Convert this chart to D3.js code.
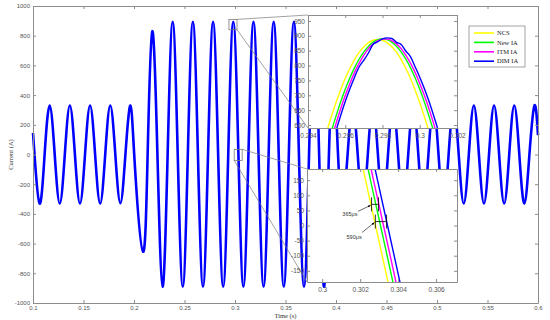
<!DOCTYPE html>
<meta charset="utf-8">
<style type="text/css">
  body { margin: 0; background: #fff; }
  .serif { font-family: "Liberation Serif", "Times New Roman", serif; }
</style>
<body>
</body>
<script src="https://d3js.org/d3.v7.min.js"></script>
<script>
  // Fault current waveform with two zoomed insets

  var seriesNames = ["NCS", "New IA", "ITM IA", "DIM IA"];
  var seriesColors = ["#ffff00", "#00ff00", "#ff00ff", "#0000ff"];

  var xTicks = [0.1, 0.15, 0.2, 0.25, 0.3, 0.35, 0.4, 0.45, 0.5, 0.55, 0.6];
  var yTicks = [-1000, -800, -600, -400, -200, 0, 200, 400, 600, 800, 1000];

  // main waveform (DIM IA), read at peaks, troughs and zero crossings
  var mainTime = [
    0.1000, 0.1015, 0.1065, 0.1115, 0.1165, 0.1215, 0.1265, 0.1315, 0.1365, 0.1415,
    0.1465, 0.1515, 0.1565, 0.1615, 0.1665, 0.1715, 0.1765, 0.1815, 0.1865, 0.1915,
    0.1965, 0.2010, 0.2090, 0.2135, 0.2181, 0.2232, 0.2283, 0.2333, 0.2383, 0.2433,
    0.2483, 0.2533, 0.2583, 0.2633, 0.2683, 0.2733, 0.2783, 0.2833, 0.2883, 0.2933,
    0.2983, 0.3034, 0.3083, 0.3133, 0.3183, 0.3233, 0.3283, 0.3333, 0.3383, 0.3433,
    0.3483, 0.3533, 0.3583, 0.3633, 0.3683, 0.3733, 0.3783, 0.3833, 0.3883, 0.3930,
    0.3975, 0.4020, 0.4065, 0.4115, 0.4165, 0.4215, 0.4265, 0.4315, 0.4365, 0.4415,
    0.4465, 0.4515, 0.4565, 0.4615, 0.4665, 0.4715, 0.4765, 0.4815, 0.4865, 0.4915,
    0.4965, 0.5015, 0.5065, 0.5115, 0.5165, 0.5215, 0.5265, 0.5315, 0.5365, 0.5415,
    0.5465, 0.5515, 0.5565, 0.5615, 0.5665, 0.5715, 0.5765, 0.5815, 0.5865, 0.5915,
    0.5965, 0.6000
  ];
  var mainCurrent = [
    145, 0, -330, 0, 330, 0, -330, 0, 330, 0,
    -330, 0, 330, 0, -330, 0, 330, 0, -328, 0,
    330, -90, -655, 0, 830, 0, -890, 0, 893, 0,
    -890, 0, 893, 0, -890, 0, 893, 0, -890, 0,
    893, 0, -890, 0, 893, 0, -890, 0, 893, 0,
    -890, 0, 893, 0, -890, 0, 893, 0, -890, 0,
    560, 0, -330, 0, 330, 0, -330, 0, 330, 0,
    -330, 0, 330, 0, -330, 0, 330, 0, -330, 0,
    330, 0, -330, 0, 330, 0, -330, 0, 330, 0,
    -330, 0, 330, 0, -330, 0, 330, 0, -330, 0,
    330, 130
  ];

  // upper inset: around the peak
  var topXTicks = [0.294, 0.296, 0.298, 0.3, 0.302];
  var topYTicks = [600, 650, 700, 750, 800, 850, 900, 950];
  var topTime = [
    0.29400, 0.29425, 0.29450, 0.29475, 0.29500, 0.29525, 0.29550, 0.29575, 0.29600, 0.29625,
    0.29650, 0.29675, 0.29700, 0.29725, 0.29750, 0.29775, 0.29800, 0.29825, 0.29850, 0.29875,
    0.29900, 0.29925, 0.29950, 0.29975, 0.30000, 0.30025, 0.30050, 0.30075, 0.30100, 0.30125,
    0.30150, 0.30175, 0.30200
  ];
  var topNCS = [340, 403, 464, 522, 577, 628, 675, 718, 757, 791, 820, 845, 863, 877, 885, 888, 885,
    877, 863, 845, 820, 791, 757, 718, 675, 628, 577, 522, 464, 403, 340, 274, 207];
  var topNew = [275, 341, 404, 465, 523, 578, 629, 677, 720, 759, 793, 822, 846, 865, 879, 887, 890,
    887, 879, 865, 846, 822, 793, 759, 720, 677, 629, 578, 523, 465, 404, 341, 275];
  var topITM = [242, 308, 373, 435, 494, 551, 604, 654, 699, 740, 777, 808, 835, 857, 873, 884, 889,
    889, 884, 873, 857, 835, 808, 777, 740, 699, 654, 604, 551, 494, 435, 373, 308];
  var topDIM = [208, 276, 342, 405, 467, 525, 580, 631, 679, 722, 761, 796, 818, 843, 872, 880, 890,
    893, 891, 878, 871, 849, 830, 796, 761, 722, 679, 631, 580, 525, 467, 405, 342];

  // lower inset: around the zero crossing
  var lowXTicks = [0.3, 0.302, 0.304, 0.306];
  var lowYTicks = [-150, -100, -50, 0, 50, 100, 150];
  var lowCurrent = [200, 100, 0, -100, -200];
  var lowNCS = [0.30211, 0.30246, 0.30281, 0.30316, 0.30351];
  var lowNew = [0.30237, 0.30272, 0.30307, 0.30342, 0.30377];
  var lowITM = [0.30253, 0.30288, 0.30323, 0.30358, 0.30393];
  var lowDIM = [0.30274, 0.30309, 0.30344, 0.30379, 0.30414];

  // delay markers in the lower inset
  var delayLabels = ["365\u03bcs", "590\u03bcs"];
  var delayStart = [0.30260, 0.30280];
  var delayEnd = [0.302965, 0.30339];
  var delayLevel = [70, 13];

  var width = 550, height = 320;
  var margin = { top: 6, right: 12, bottom: 17, left: 33 };

  var svg = d3.select("body").append("svg")
    .attr("width", width)
    .attr("height", height);

  var x = d3.scaleLinear().domain([0.1, 0.6]).range([margin.left, width - margin.right]);
  var y = d3.scaleLinear().domain([-1000, 1000]).range([height - margin.bottom, margin.top]);

  var fmt = function(d) { return String(+d.toFixed(3)); };
  var axisGray = "#8c8c8c";

  function styleAxis(g, fontSize) {
    g.attr("font-family", "'Liberation Sans', Arial, sans-serif").attr("font-size", fontSize);
    g.select(".domain").attr("stroke", axisGray);
    g.selectAll(".tick line").attr("stroke", axisGray);
    g.selectAll(".tick text").attr("fill", "#555");
  }

  // box with ticks on all four sides
  function drawBox(g, xs, ys, xt, yt, fontSize, padX, padY) {
    var r = xs.range(), d = ys.range();
    g.append("g").attr("transform", "translate(0," + d[0] + ")")
      .call(d3.axisBottom(xs).tickValues(xt).tickFormat(fmt).tickSizeInner(-3).tickSizeOuter(0).tickPadding(padX))
      .call(styleAxis, fontSize);
    g.append("g").attr("transform", "translate(0," + d[1] + ")")
      .call(d3.axisTop(xs).tickValues(xt).tickFormat("").tickSizeInner(-3).tickSizeOuter(0))
      .call(styleAxis, fontSize);
    g.append("g").attr("transform", "translate(" + r[0] + ",0)")
      .call(d3.axisLeft(ys).tickValues(yt).tickFormat(fmt).tickSizeInner(-3).tickSizeOuter(0).tickPadding(padY))
      .call(styleAxis, fontSize);
    g.append("g").attr("transform", "translate(" + r[1] + ",0)")
      .call(d3.axisRight(ys).tickValues(yt).tickFormat("").tickSizeInner(-3).tickSizeOuter(0))
      .call(styleAxis, fontSize);
  }

  // main waveform
  var mainData = mainTime.map(function(t, i) { return { t: t, v: mainCurrent[i] }; });
  var mainLine = d3.line()
    .x(function(d) { return x(d.t); })
    .y(function(d) { return y(d.v); })
    .curve(d3.curveNatural);

  svg.append("path")
    .datum(mainData)
    .attr("fill", "none")
    .attr("stroke", seriesColors[3])
    .attr("stroke-width", 2.6)
    .attr("d", mainLine);

  drawBox(svg.append("g"), x, y, xTicks, yTicks, 6, 3, 3);

  // axis titles
  svg.append("text")
    .attr("class", "serif")
    .attr("x", (x.range()[0] + x.range()[1]) / 2)
    .attr("y", 318)
    .attr("text-anchor", "middle")
    .attr("font-size", 6.5)
    .attr("fill", "#333")
    .text("Time (s)");

  svg.append("text")
    .attr("class", "serif")
    .attr("transform", "translate(13," + y(0) + ") rotate(-90)")
    .attr("text-anchor", "middle")
    .attr("font-size", 6.5)
    .attr("fill", "#333")
    .text("Current (A)");

  // inset scales
  var xTop = d3.scaleLinear().domain([0.294, 0.302]).range([308, 457]);
  var yTop = d3.scaleLinear().domain([590, 970]).range([128, 15]);
  var xLow = d3.scaleLinear().domain([0.2992, 0.3071]).range([307, 457]);
  var yLow = d3.scaleLinear().domain([-187, 187]).range([282, 169]);

  // zoom rectangles on the main plot and their connectors
  var zoomGray = "#7a7a7a";
  var r1 = { x0: x(0.294), x1: x(0.302), y0: y(910), y1: y(840) };
  var r2 = { x0: x(0.2992), x1: x(0.3071), y0: y(35), y1: y(-40) };
  svg.append("rect").attr("x", r1.x0).attr("y", r1.y0).attr("width", r1.x1 - r1.x0).attr("height", r1.y1 - r1.y0)
    .attr("fill", "none").attr("stroke", zoomGray).attr("stroke-width", 0.8);
  svg.append("rect").attr("x", r2.x0).attr("y", r2.y0).attr("width", r2.x1 - r2.x0).attr("height", r2.y1 - r2.y0)
    .attr("fill", "none").attr("stroke", zoomGray).attr("stroke-width", 0.8);
  var connectors = [
    [r1.x1, r1.y0, xTop.range()[0], yTop.range()[1]],
    [r1.x1, r1.y1, xTop.range()[0], yTop.range()[0]],
    [r2.x1, r2.y0, xLow.range()[0], yLow.range()[1]],
    [r2.x0, r2.y1, xLow.range()[0], yLow.range()[0]]
  ];
  svg.selectAll(".connector").data(connectors).enter().append("line")
    .attr("class", "connector")
    .attr("x1", function(d) { return d[0]; }).attr("y1", function(d) { return d[1]; })
    .attr("x2", function(d) { return d[2]; }).attr("y2", function(d) { return d[3]; })
    .attr("stroke", zoomGray).attr("stroke-width", 0.7);

  // inset helper
  function drawInset(id, xs, ys) {
    var g = svg.append("g");
    g.append("clipPath").attr("id", id)
      .append("rect")
      .attr("x", xs.range()[0]).attr("y", ys.range()[1])
      .attr("width", xs.range()[1] - xs.range()[0])
      .attr("height", ys.range()[0] - ys.range()[1]);
    g.append("rect")
      .attr("x", xs.range()[0]).attr("y", ys.range()[1])
      .attr("width", xs.range()[1] - xs.range()[0])
      .attr("height", ys.range()[0] - ys.range()[1])
      .attr("fill", "#fff");
    return g;
  }

  // upper inset
  var topG = drawInset("clipTop", xTop, yTop);
  var topSeries = [topNCS, topNew, topITM, topDIM];
  var topLine = d3.line()
    .x(function(d) { return xTop(d.t); })
    .y(function(d) { return yTop(d.v); })
    .curve(d3.curveMonotoneX);
  topSeries.forEach(function(vals, k) {
    topG.append("path")
      .datum(topTime.map(function(t, i) { return { t: t, v: vals[i] }; }))
      .attr("clip-path", "url(#clipTop)")
      .attr("fill", "none")
      .attr("stroke", seriesColors[k])
      .attr("stroke-width", 1.4)
      .attr("d", topLine);
  });
  drawBox(topG, xTop, yTop, topXTicks, topYTicks, 6.5, 5, 3);

  // lower inset
  var lowG = drawInset("clipLow", xLow, yLow);
  var lowSeries = [lowNCS, lowNew, lowITM, lowDIM];
  var lowLine = d3.line()
    .x(function(d) { return xLow(d.t); })
    .y(function(d) { return yLow(d.v); });
  lowSeries.forEach(function(times, k) {
    lowG.append("path")
      .datum(times.map(function(t, i) { return { t: t, v: lowCurrent[i] }; }))
      .attr("clip-path", "url(#clipLow)")
      .attr("fill", "none")
      .attr("stroke", seriesColors[k])
      .attr("stroke-width", 1.4)
      .attr("d", lowLine);
  });

  // delay brackets with arrows
  svg.append("defs").append("marker")
    .attr("id", "arrow")
    .attr("viewBox", "0 0 10 10")
    .attr("refX", 9).attr("refY", 5)
    .attr("markerWidth", 5).attr("markerHeight", 5)
    .attr("orient", "auto")
    .append("path").attr("d", "M0,1L10,5L0,9z").attr("fill", "#000");

  var labelPos = [{ t: 0.30146, v: 37 }, { t: 0.30168, v: -37 }];
  var arrowFrom = [{ t: 0.30189, v: 47 }, { t: 0.30210, v: -23 }];
  delayLabels.forEach(function(lbl, k) {
    var yy = yLow(delayLevel[k]);
    lowG.append("line")
      .attr("x1", xLow(delayStart[k])).attr("x2", xLow(delayEnd[k]))
      .attr("y1", yy).attr("y2", yy)
      .attr("stroke", "#000").attr("stroke-width", 0.8);
    [delayStart[k], delayEnd[k]].forEach(function(t) {
      lowG.append("line")
        .attr("x1", xLow(t)).attr("x2", xLow(t))
        .attr("y1", yy - 7).attr("y2", yy + 7)
        .attr("stroke", "#000").attr("stroke-width", 0.8);
    });
    lowG.append("line")
      .attr("x1", xLow(arrowFrom[k].t)).attr("y1", yLow(arrowFrom[k].v))
      .attr("x2", xLow(delayStart[k]) - 1).attr("y2", yy + 1)
      .attr("stroke", "#000").attr("stroke-width", 0.6)
      .attr("marker-end", "url(#arrow)");
    lowG.append("text")
      .attr("x", xLow(labelPos[k].t)).attr("y", yLow(labelPos[k].v))
      .attr("dy", "0.35em")
      .attr("text-anchor", "middle")
      .attr("font-family", "'Liberation Sans', Arial, sans-serif")
      .attr("font-size", 5.5)
      .attr("fill", "#333")
      .text(lbl);
  });
  drawBox(lowG, xLow, yLow, lowXTicks, lowYTicks, 6.5, 5, 3);

  // legend
  var legend = svg.append("g").attr("transform", "translate(469,26)");
  legend.append("rect")
    .attr("width", 56).attr("height", 41)
    .attr("fill", "#fff").attr("stroke", axisGray).attr("stroke-width", 0.8);
  seriesNames.forEach(function(name, k) {
    var ly = 7 + k * 9.4;
    legend.append("line")
      .attr("x1", 5).attr("x2", 25).attr("y1", ly).attr("y2", ly)
      .attr("stroke", seriesColors[k]).attr("stroke-width", 1.6);
    legend.append("text")
      .attr("class", "serif")
      .attr("x", 28).attr("y", ly).attr("dy", "0.35em")
      .attr("font-size", 6.5)
      .attr("fill", "#222")
      .text(name);
  });
</script>
